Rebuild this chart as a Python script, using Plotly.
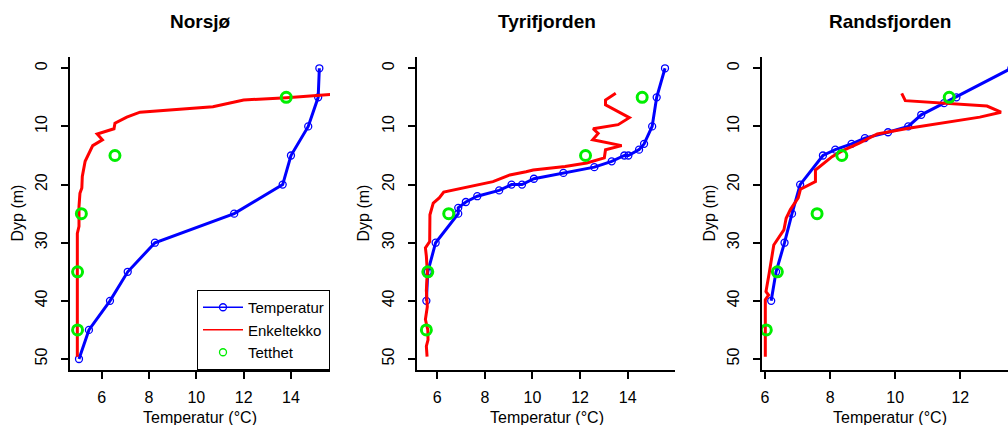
import plotly.graph_objects as go

# ---------------- data ----------------
titles = ["Norsjø", "Tyrifjorden", "Randsfjorden"]
series_names = ["Temperatur", "Enkeltekko", "Tetthet"]

# Temperatur profiles (depth m, temp °C)
temp_depth_1 = [0, 5, 10, 15, 20, 25, 30, 35, 40, 45, 50]
temp_1 = [15.2, 15.15, 14.73, 14.0, 13.65, 11.6, 8.25, 7.1, 6.35, 5.46, 5.04]

temp_depth_2 = [0, 5, 10, 13, 14, 15, 15, 16, 17, 18, 19, 20, 20, 21, 22, 23, 24, 25, 30, 35, 40]
temp_2 = [15.57, 15.22, 15.03, 14.69, 14.48, 14.03, 13.86, 13.33, 12.6, 11.3, 10.06,
          9.56, 9.12, 8.6, 7.68, 7.2, 6.88, 6.88, 5.93, 5.6, 5.54]

temp_depth_3 = [0, 5, 6, 8, 10, 11, 12, 13, 14, 15, 20, 25, 30, 35, 40]
temp_3 = [13.57, 11.88, 11.5, 10.8, 10.4, 9.78, 9.07, 8.66, 8.16, 7.78, 7.08, 6.83, 6.6, 6.34, 6.19]

# Enkeltekko profiles
echo_depth_1 = [4.3, 5.05, 5.45, 6.6, 7.55, 8.4, 9.45, 10.4, 11.3, 12.3, 13.3, 16.0, 18.6,
                20.6, 21.5, 23.8, 27.2, 28.4, 49.6]
echo_1 = [16.3, 13.82, 12.0, 10.7, 7.62, 7.06, 6.56, 6.52, 5.81, 6.03, 5.62, 5.3, 5.18,
          5.16, 5.08, 5.04, 5.04, 4.97, 4.97]

echo_depth_2 = [4.3, 5.45, 6.3, 8.5, 9.7, 10.4, 11.2, 12.3, 13.3, 14.0, 15.4, 16.3, 16.9,
                17.5, 17.8, 18.35, 19.5, 21.3, 22.3, 23.2, 25.2, 29.5, 29.8, 30.9, 32.3,
                35.0, 38.2, 41.0, 43.2, 45.0, 46.7, 47.8, 49.6]
echo_2 = [13.5, 13.07, 13.07, 14.07, 13.6, 12.55, 12.76, 12.53, 13.75, 13.07, 13.02, 12.28,
          11.37, 10.03, 9.73, 9.05, 8.34, 6.27, 6.08, 5.83, 5.69, 5.66, 5.68, 5.5, 5.54,
          5.58, 5.54, 5.58, 5.5, 5.6, 5.61, 5.54, 5.57]

echo_depth_3 = [4.3, 5.57, 6.5, 7.56, 8.4, 9.46, 10.3, 11.3, 12.2, 12.9, 14.2, 15.2, 17.5,
                19.5, 20.8, 22.3, 24.3, 25.8, 27.8, 30.4, 35.2, 38.4, 39.0, 39.8, 49.6]
echo_3 = [10.2, 10.31, 12.82, 13.25, 12.6, 11.38, 10.41, 9.45, 9.15, 8.88, 8.37, 8.06, 7.55,
          7.55, 7.09, 7.02, 6.78, 6.65, 6.58, 6.27, 6.13, 6.03, 6.11, 6.01, 6.01]

# Tetthet
dens_depth = [5, 15, 25, 35, 45]
dens_1 = [13.8, 6.56, 5.14, 4.98, 4.98]
dens_2 = [14.61, 12.23, 6.48, 5.6, 5.54]
dens_3 = [11.66, 8.36, 7.6, 6.38, 6.04]

x_ticks = [[6, 8, 10, 12, 14], [6, 8, 10, 12, 14, 16], [6, 8, 10, 12, 14]]
y_ticks = [0, 10, 20, 30, 40, 50]

# ---------------- layout geometry ----------------
W, H = 1008, 425
FONT = "Liberation Sans, Arial, Helvetica, sans-serif"
FS = 16
x_domains = [[70 / W, 330 / W], [416.7 / W, 675 / W], [762 / W, 1.0]]
x_ranges = [[4.66, 15.65], [5.134, 15.99], [5.908, 13.465]]
y_dom = [(H - 370) / H, (H - 57) / H]
y_range = [51.89, -1.94]
title_x = [200, 546.5, 890]

BLUE, RED, GREEN = "#0000ff", "#ff0000", "#00ee00"

temps = [(temp_depth_1, temp_1), (temp_depth_2, temp_2), (temp_depth_3, temp_3)]
echos = [(echo_depth_1, echo_1), (echo_depth_2, echo_2), (echo_depth_3, echo_3)]
dens = [dens_1, dens_2, dens_3]

fig = go.Figure()
for i in range(3):
    xa = "x" if i == 0 else f"x{i+1}"
    ya = "y" if i == 0 else f"y{i+1}"
    td, tv = temps[i]
    fig.add_trace(go.Scatter(
        x=tv, y=td, xaxis=xa, yaxis=ya, mode="lines+markers", name=series_names[0],
        line=dict(color=BLUE, width=3),
        marker=dict(symbol="circle-open", size=7, color=BLUE, line=dict(width=1.3)),
        showlegend=False))
    ed, ev = echos[i]
    fig.add_trace(go.Scatter(
        x=ev, y=ed, xaxis=xa, yaxis=ya, mode="lines", name=series_names[1],
        line=dict(color=RED, width=3), showlegend=False))
    fig.add_trace(go.Scatter(
        x=dens[i], y=dens_depth, xaxis=xa, yaxis=ya, mode="markers", name=series_names[2],
        marker=dict(symbol="circle-open", size=10, color=GREEN, line=dict(width=3)),
        showlegend=False))

# legend keys (thin lines / small symbols as in the original legend box)
fig.add_trace(go.Scatter(x=[None], y=[None], mode="lines+markers", name=series_names[0],
                         line=dict(color=BLUE, width=1.3),
                         marker=dict(symbol="circle-open", size=7, color=BLUE, line=dict(width=1.3))))
fig.add_trace(go.Scatter(x=[None], y=[None], mode="lines", name=series_names[1],
                         line=dict(color=RED, width=1.3)))
fig.add_trace(go.Scatter(x=[None], y=[None], mode="markers", name=series_names[2],
                         marker=dict(symbol="circle-open", size=7, color=GREEN, line=dict(width=1.3))))

axis_common = dict(showgrid=False, zeroline=False, showline=True, linecolor="black",
                   linewidth=1.5, ticks="outside", ticklen=7, tickwidth=1.5,
                   tickcolor="black", tickfont=dict(family=FONT, size=FS, color="black"))
layout = dict(width=W, height=H, margin=dict(l=0, r=0, t=0, b=0),
              plot_bgcolor="white", paper_bgcolor="white",
              font=dict(family=FONT, size=FS, color="black"))
for i in range(3):
    xk = "xaxis" if i == 0 else f"xaxis{i+1}"
    yk = "yaxis" if i == 0 else f"yaxis{i+1}"
    ya = "y" if i == 0 else f"y{i+1}"
    xa = "x" if i == 0 else f"x{i+1}"
    layout[xk] = dict(domain=x_domains[i], range=x_ranges[i], anchor=ya,
                      tickvals=x_ticks[i], ticklabelstandoff=5, **axis_common)
    layout[yk] = dict(domain=y_dom, range=y_range, anchor=xa, tickvals=y_ticks,
                      tickangle=-90, ticklabelstandoff=8, **axis_common)

annotations = []
for i in range(3):
    annotations.append(dict(text="<b>" + titles[i] + "</b>", x=title_x[i] / W, y=1 - 22 / H,
                            xref="paper", yref="paper", showarrow=False,
                            font=dict(family=FONT, size=19, color="black"),
                            xanchor="center", yanchor="middle"))
    annotations.append(dict(text="Temperatur (°C)", x=title_x[i] / W, y=1 - 417 / H,
                            xref="paper", yref="paper", showarrow=False,
                            font=dict(family=FONT, size=FS, color="black"),
                            xanchor="center", yanchor="middle"))
yt_x = [17, 363, 709]
for i in range(3):
    annotations.append(dict(text="Dyp (m)", x=yt_x[i] / W, y=1 - 213.5 / H,
                            xref="paper", yref="paper", showarrow=False, textangle=-90,
                            font=dict(family=FONT, size=FS, color="black"),
                            xanchor="center", yanchor="middle"))
layout["annotations"] = annotations
layout["legend"] = dict(x=330 / W, y=(H - 370) / H, xanchor="right", yanchor="bottom",
                        bordercolor="black", borderwidth=1, bgcolor="white",
                        font=dict(family=FONT, size=15, color="black"),
                        tracegroupgap=0, itemwidth=40, itemsizing="trace")
fig.update_layout(**layout)
fig.write_html("out.html")
